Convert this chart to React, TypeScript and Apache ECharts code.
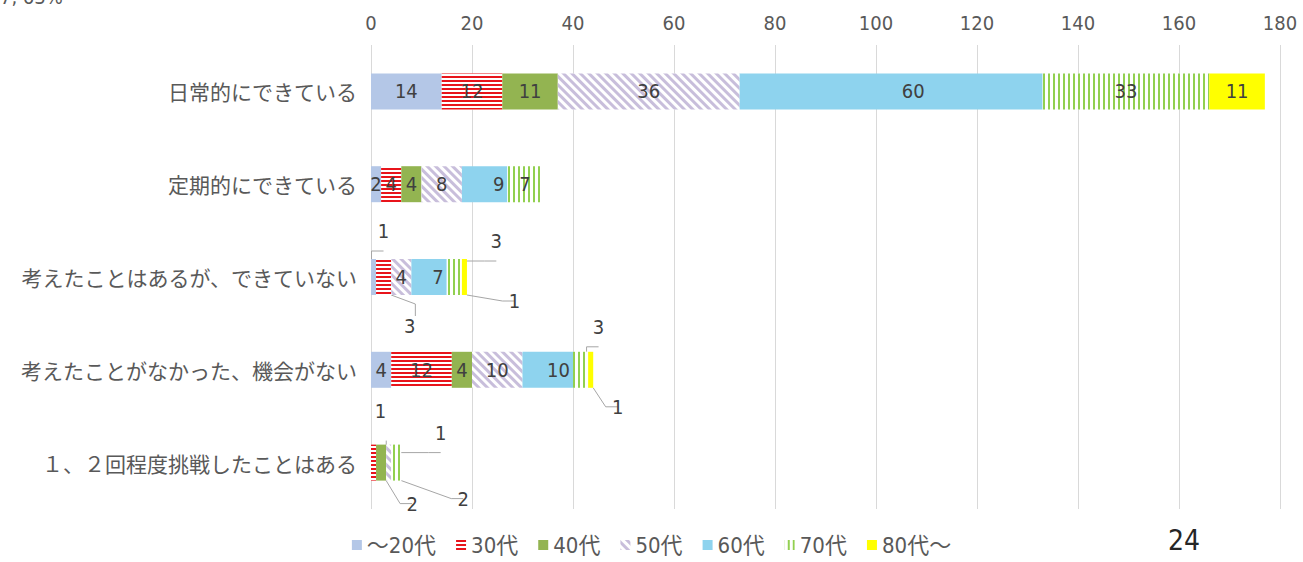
import React, { useEffect, useRef } from 'react';
import * as echarts from 'echarts';

// ---- data ----
const categories = [
  '日常的にできている',
  '定期的にできている',
  '考えたことはあるが、できていない',
  '考えたことがなかった、機会がない',
  '１、２回程度挑戦したことはある',
];
const ageGroups = ['～20代', '30代', '40代', '50代', '60代', '70代', '80代～'];
const v20 = [14, 2, 1, 4, 0];
const v30 = [12, 4, 3, 12, 1];
const v40 = [11, 4, 0, 4, 2];
const v50 = [36, 8, 4, 10, 1];
const v60 = [60, 9, 7, 10, 0];
const v70 = [33, 7, 3, 3, 2];
const v80 = [11, 0, 1, 1, 0];
const seriesValues = [v20, v30, v40, v50, v60, v70, v80];
const axisMin = 0;
const axisMax = 180;
const axisStep = 20;
const pageNumber = '24';
const cornerText = '7, 63%';

// ---- styling / label placement ----
const NUM_FONT = '"Liberation Sans Narrow", "DejaVu Sans Condensed", "Roboto Condensed", "Noto Sans CJK JP", sans-serif';
const JP_FONT = '"Noto Sans CJK JP", "Noto Sans", sans-serif';

const seriesStyles: any[] = [
  { color: '#b4c7e7' },
  { color: '#ffffff', decal: { symbol: 'rect', symbolSize: 1, color: '#e8141b', dashArrayX: [1, 0], dashArrayY: [2, 2], rotation: 0 } },
  { color: '#93b451' },
  { color: '#ffffff', decal: { symbol: 'rect', symbolSize: 1, color: '#c8bedb', dashArrayX: [1, 0], dashArrayY: [3, 3], rotation: Math.PI / 4 } },
  { color: '#8ed3ee' },
  { color: '#ffffff', decal: { symbol: 'rect', symbolSize: 1, color: '#92d050', dashArrayX: [1, 0], dashArrayY: [2, 2.5], rotation: Math.PI / 2 } },
  { color: '#ffff00' },
];

// [seriesIndex, categoryIndex, position, dx, dy]
const outsideLabels: [number, number, string, number, number][] = [
  [0, 2, 'top', 10, -15],
  [1, 2, 'bottom', 26, 18],
  [5, 2, 'top', 42, -5],
  [6, 2, 'bottom', 50, -7],
  [5, 3, 'top', 18, -12],
  [6, 3, 'bottom', 27, 6],
  [1, 4, 'top', 7, -21],
  [2, 4, 'bottom', 31, 10],
  [3, 4, 'top', 52, 1],
  [5, 4, 'bottom', 67, 5],
];

export default function App() {
  const ref = useRef<HTMLDivElement>(null);
  useEffect(() => {
    if (!ref.current) return;
    const chart = echarts.init(ref.current, undefined, { renderer: 'svg' });

    const series = ageGroups.map((name, si) => {
      const data = seriesValues[si].map((v, ci) => {
        const o = outsideLabels.find((x) => x[0] === si && x[1] === ci);
        if (o) {
          return {
            value: v,
            label: { position: o[2], offset: [o[3], o[4]], fontSize: 20 },
            labelLine: { show: true, length2: 12, lineStyle: { color: '#a6a6a6', width: 1 } },
          };
        }
        if (si === 4 && ci === 0) {
          return { value: v, label: { position: 'inside', offset: [22, 0] } };
        }
        return v;
      });
      return {
        name,
        type: 'bar',
        stack: 'total',
        barWidth: 36,
        data,
        itemStyle: seriesStyles[si],
        emphasis: { disabled: true },
        label: {
          show: true,
          position: si === 4 ? 'insideRight' : 'inside',
          distance: 3,
          color: '#404040',
          fontSize: 20,
          fontFamily: NUM_FONT,
          formatter: (p: any) => (p.value ? String(p.value) : ''),
        },
      };
    });

    chart.setOption({
      animation: false,
      backgroundColor: '#ffffff',
      grid: { left: 371, right: 23, top: 45, bottom: 53, containLabel: false },
      xAxis: {
        type: 'value',
        position: 'top',
        min: axisMin,
        max: axisMax,
        interval: axisStep,
        axisLine: { show: false },
        axisTick: { show: false },
        axisLabel: { color: '#595959', fontSize: 20, fontFamily: NUM_FONT, margin: 12 },
        splitLine: { show: true, lineStyle: { color: '#d9d9d9', width: 1 } },
      },
      yAxis: {
        type: 'category',
        data: categories,
        inverse: true,
        axisLine: { show: false },
        axisTick: { show: false },
        axisLabel: { color: '#595959', fontSize: 21, fontFamily: JP_FONT, margin: 14 },
      },
      legend: {
        bottom: 1,
        left: 'center',
        icon: 'rect',
        itemWidth: 10,
        itemHeight: 10,
        itemGap: 20,
        textStyle: { color: '#595959', fontSize: 22, fontFamily: NUM_FONT },
        data: ageGroups,
      },
      graphic: [
        { type: 'text', left: 1168, top: 526, style: { text: pageNumber, fontSize: 28, fill: '#262626', fontFamily: NUM_FONT } },
        { type: 'text', left: 0, top: -13, style: { text: cornerText, fontSize: 20, fill: '#595959', fontFamily: NUM_FONT } },
      ],
      series,
    });
    return () => chart.dispose();
  }, []);
  return <div ref={ref} style={{ position: 'fixed', left: 0, top: 0, width: 1303, height: 562 }} />;
}
